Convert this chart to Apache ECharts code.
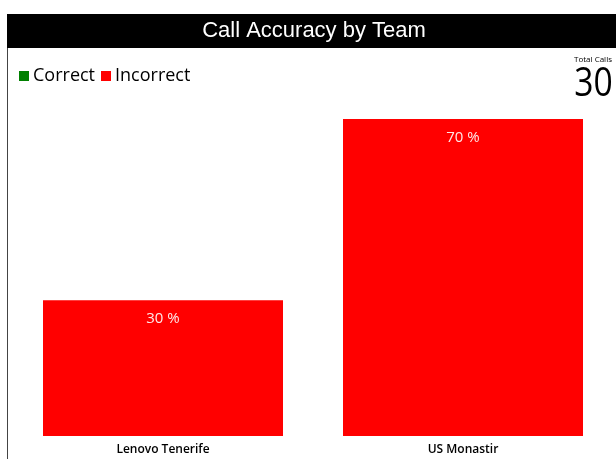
<!DOCTYPE html>
<html><head><meta charset="utf-8">
<script src="https://cdn.jsdelivr.net/npm/echarts@6/dist/echarts.min.js"></script>
<style>html,body{margin:0;padding:0;background:#fff}#c{width:616px;height:459px}</style>
</head><body><div id="c"></div>
<script>
var titleText = 'Call Accuracy by Team';
var categories = ['Lenovo Tenerife', 'US Monastir'];
var correctValues = [0, 0];
var incorrectValues = [30, 70];
var totalCalls = 30;

var chart = echarts.init(document.getElementById('c'));
chart.setOption({
  animation: false,
  backgroundColor: '#fff',
  graphic: [
    {type: 'rect', shape: {x: 7, y: 14, width: 609, height: 34}, style: {fill: '#000'}, z: 0},
    {type: 'rect', shape: {x: 7, y: 48, width: 1, height: 411}, style: {fill: '#444'}, z: 0},
    {type: 'text', x: 314, y: 31, style: {text: titleText, fill: '#fff', font: '22px "Liberation Sans", Arial', align: 'center', verticalAlign: 'middle'}},
    {type: 'text', x: 593, y: 60, style: {text: 'Total Calls', fill: '#000', font: '8px "Open Sans"', align: 'center', verticalAlign: 'middle'}},
    {type: 'text', x: 593.5, y: 84, scaleX: 0.82, originX: 0, originY: 0,
     style: {text: String(totalCalls), fill: '#000', font: '41px "Open Sans"', align: 'center', verticalAlign: 'middle'}}
  ],
  legend: {
    left: 14, top: 62, icon: 'rect', itemWidth: 10, itemHeight: 10, itemGap: 6,
    textStyle: {fontSize: 18, fontFamily: 'Open Sans', color: '#000', padding: [0, 0, 0, -1]},
    data: ['Correct', 'Incorrect']
  },
  grid: {left: 13, right: 3, top: 119, bottom: 23, containLabel: false},
  xAxis: {
    type: 'category', data: categories,
    axisLine: {show: false}, axisTick: {show: false},
    axisLabel: {color: '#000', fontSize: 12, fontFamily: 'Open Sans', fontWeight: 600, margin: 8}
  },
  yAxis: {type: 'value', min: 0, max: 70, show: false, splitLine: {show: false}},
  series: [
    {name: 'Correct', type: 'bar', stack: 'a', barWidth: '80%', data: correctValues, itemStyle: {color: '#008000'},
     label: {show: false}},
    {name: 'Incorrect', type: 'bar', stack: 'a', barWidth: '80%', data: incorrectValues, itemStyle: {color: '#ff0000'},
     label: {show: true, position: 'insideTop', distance: 11, color: '#ffe8e8', fontSize: 15, fontFamily: 'Open Sans',
       formatter: function (p) { return p.value + ' %'; }}}
  ]
});
</script></body></html>
